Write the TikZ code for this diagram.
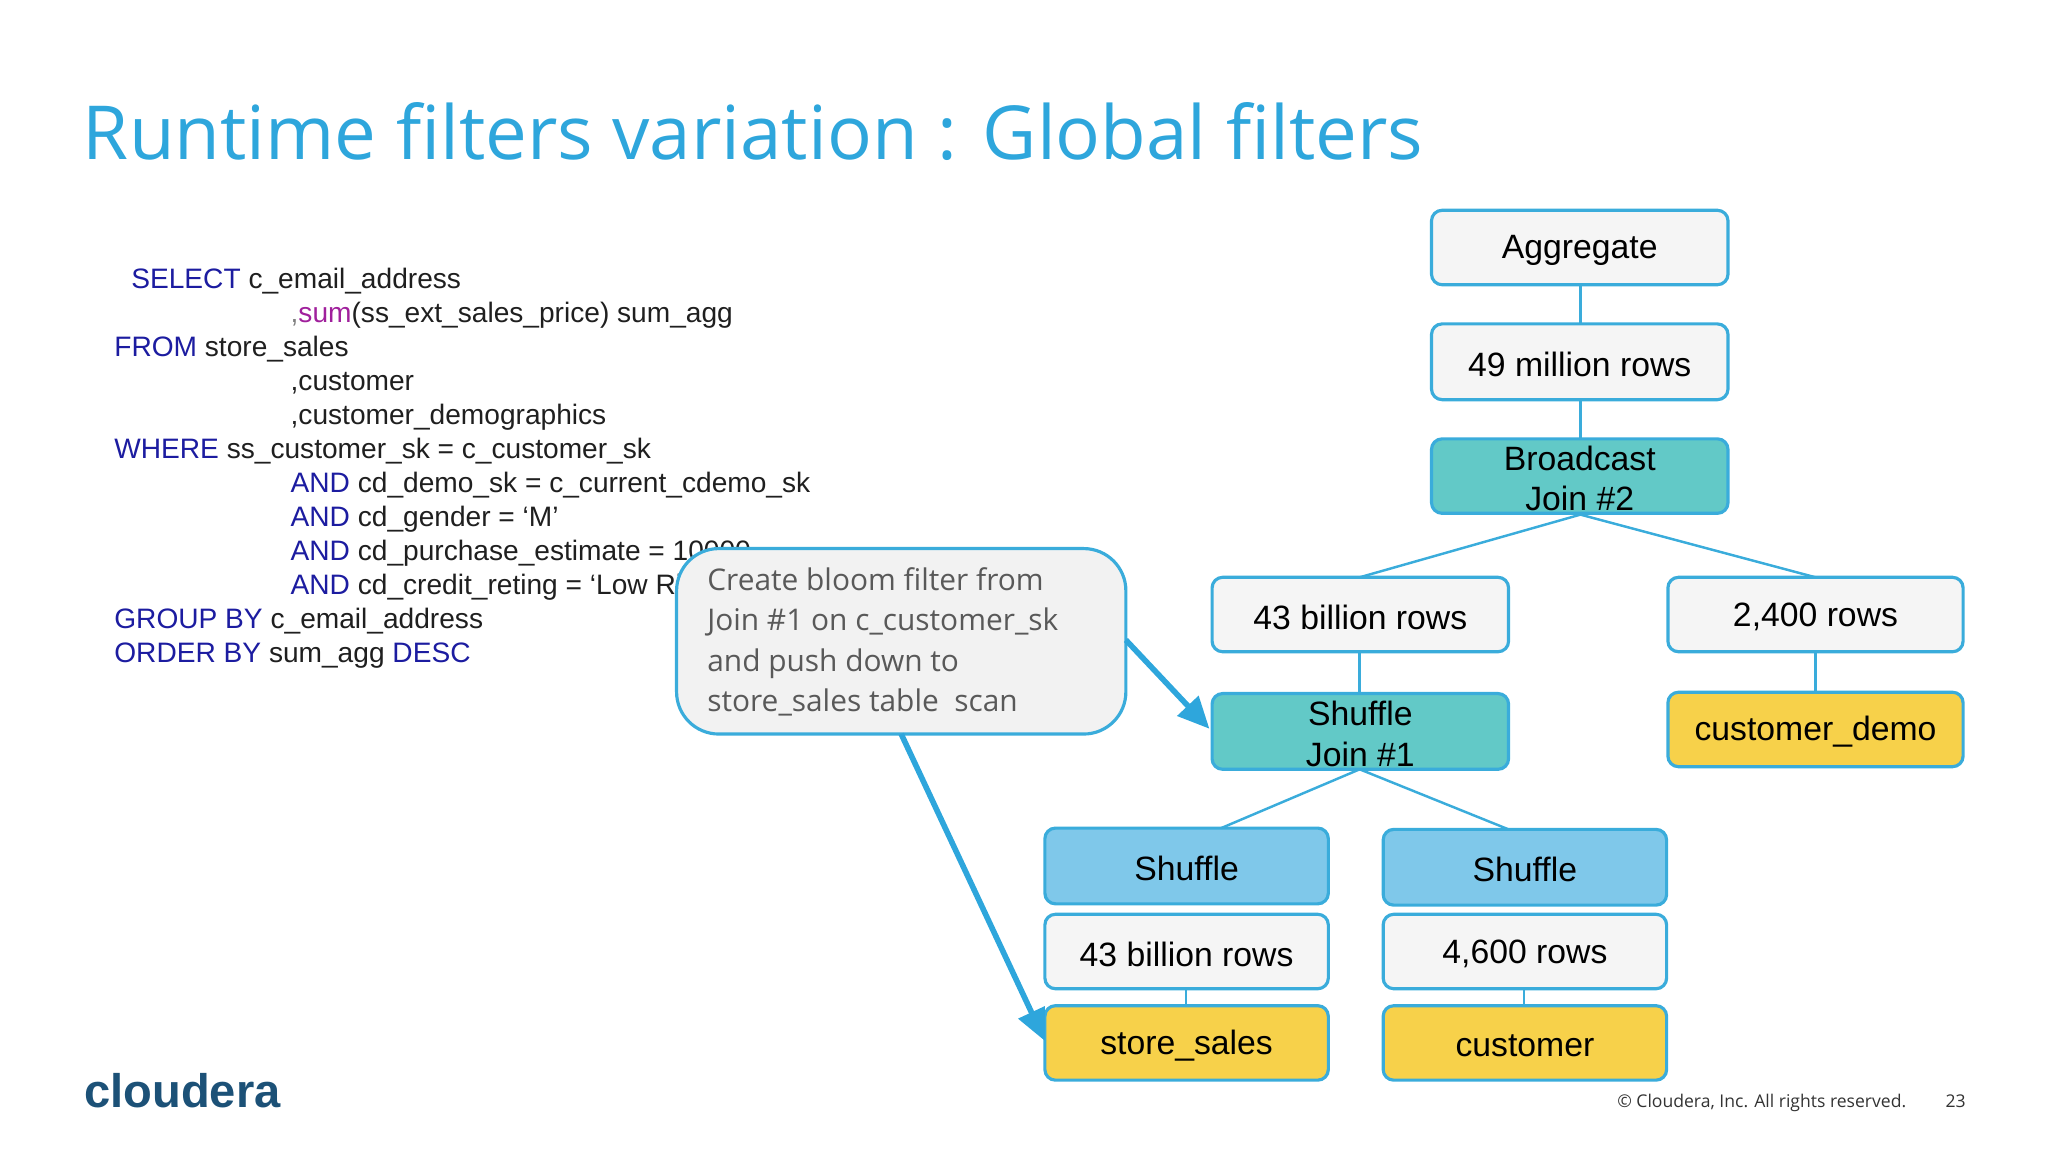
\documentclass[tikz,border=0pt]{standalone}
\usepackage{fontspec}
\setmainfont{Liberation Sans}
\newfontfamily\osans{Open Sans}
\usetikzlibrary{arrows.meta}
\definecolor{tblue}{HTML}{2EA6DC}
\definecolor{bord}{HTML}{3AACDB}
\definecolor{teal}{HTML}{62C9C7}
\definecolor{yel}{HTML}{F7D14A}
\definecolor{lblue}{HTML}{7FC8EA}
\definecolor{kw}{HTML}{1C1CA0}
\definecolor{pur}{HTML}{A0209C}
\definecolor{logo}{HTML}{1C5177}
\begin{document}
\begin{tikzpicture}[x=0.013061cm,y=-0.013061cm,
 sql/.style={anchor=base west,inner sep=0pt,text=black!88,font=\fontsize{8.0}{9}\selectfont},
 ln/.style={draw=bord,line width=0.7pt},
 nb/.style={draw=bord,line width=0.9pt,rounded corners=3pt,fill=#1},
 lb/.style={align=center,inner sep=0pt,font=\fontsize{9.6}{11.5}\selectfont}]
\useasboundingbox (0,0) rectangle (1568,882);
% title
\node[anchor=base west,inner sep=0pt,text=tblue,font=\osans\fontsize{21.2}{26}\selectfont] (title) at (63,122) {Runtime filters variation : Global filters};
% SQL
\node[sql] (s1) at (100,221) {\textcolor{kw}{SELECT} c\_email\_address};
\node[sql] (s2) at (222,247) {\textcolor{gray}{,}\textcolor{pur}{sum}(ss\_ext\_sales\_price) sum\_agg};
\node[sql] (s3) at (87,273) {\textcolor{kw}{FROM} store\_sales};
\node[sql] (s4) at (222,299) {,customer};
\node[sql] (s5) at (222,325) {,customer\_demographics};
\node[sql] (s6) at (87,351) {\textcolor{kw}{WHERE} ss\_customer\_sk = c\_customer\_sk};
\node[sql] (s7) at (222,377) {\textcolor{kw}{AND} cd\_demo\_sk = c\_current\_cdemo\_sk};
\node[sql] (s8) at (222,403) {\textcolor{kw}{AND} cd\_gender = ‘M’};
\node[sql] (s9) at (222,429) {\textcolor{kw}{AND} cd\_purchase\_estimate = 10000};
\node[sql] (s10) at (222,455) {\textcolor{kw}{AND} cd\_credit\_reting = ‘Low Risk’};
\node[sql] (s11) at (87,481) {\textcolor{kw}{GROUP BY} c\_email\_address};
\node[sql] (s12) at (87,507) {\textcolor{kw}{ORDER BY} sum\_agg \textcolor{kw}{DESC}};
% boxes
\newcommand\bxn[6]{\draw[nb=#6] (#2,#3) rectangle (#4,#5); \coordinate (#1) at ({(#2+#4)/2},{(#3+#5)/2+2});}
\newcommand\lab[3]{\node[lb] (#3) at (#1) {#2};}
\bxn{agg}{1096}{161}{1323}{218}{white!96!black}
\bxn{r49}{1096}{248}{1323}{306}{white!96!black}
\bxn{bj}{1096}{336}{1323}{393}{teal}
\bxn{r43a}{928}{442}{1155}{499}{white!96!black}
\bxn{r24}{1277}{442}{1503}{499}{white!96!black}
\bxn{sj}{928}{531}{1155}{589}{teal}
\bxn{cd}{1277}{530}{1503}{587}{yel}
\bxn{shl}{800}{634}{1017}{692}{lblue}
\bxn{r43b}{800}{700}{1017}{757}{white!96!black}
\bxn{ss}{800}{770}{1017}{827}{yel}
\bxn{shr}{1059}{635}{1276}{693}{lblue}
\bxn{r46}{1059}{700}{1276}{757}{white!96!black}
\bxn{cu}{1059}{770}{1276}{827}{yel}
\lab{agg}{Aggregate}{tagg}
\lab{r49}{49 million rows}{tr49}
\lab{bj}{Broadcast\\Join \#2}{tbj}
\lab{r43a}{43 billion rows}{tr43a}
\lab{r24}{2,400 rows}{tr24}
\lab{sj}{Shuffle\\Join \#1}{tsj}
\lab{cd}{customer\_demo}{tcd}
\lab{shl}{Shuffle}{tshl}
\lab{r43b}{43 billion rows}{tr43b}
\lab{ss}{store\_sales}{tss}
\lab{shr}{Shuffle}{tshr}
\lab{r46}{4,600 rows}{tr46}
\lab{cu}{customer}{tcu}
% connectors
\coordinate (aggb) at (1210,218); \coordinate (r49t) at (1210,248);
\coordinate (r49b) at (1210,306); \coordinate (bjt) at (1210,336);
\coordinate (bjb) at (1210,394); \coordinate (r43at) at (1041,442); \coordinate (r24t) at (1390,442);
\coordinate (r43ab) at (1041,499); \coordinate (sjt) at (1041,531);
\coordinate (r24b) at (1390,499); \coordinate (cdt) at (1390,530);
\coordinate (sjb) at (1041,589); \coordinate (shlt) at (935,634); \coordinate (shrt) at (1155,635);
\coordinate (r43bb) at (908,757); \coordinate (sst) at (908,770);
\coordinate (r46b) at (1167,757); \coordinate (cut) at (1167,770);
\draw[ln] (aggb)--(r49t); \draw[ln] (r49b)--(bjt);
\draw[ln] (bjb)--(r43at); \draw[ln] (bjb)--(r24t);
\draw[ln] (r43ab)--(sjt); \draw[ln] (r24b)--(cdt);
\draw[ln] (sjb)--(shlt); \draw[ln] (sjb)--(shrt);
\draw[ln] (r43bb)--(sst); \draw[ln] (r46b)--(cut);
% callout
\draw[draw=bord,line width=0.9pt,fill=white!95!black,rounded corners=12pt] (518,420) rectangle (862,562);
\node[anchor=north west,align=left,inner sep=0pt,text=black!65,font=\osans\fontsize{8.5}{11.5}\selectfont] (co) at (541,434) {Create bloom filter from\\Join \#1 on c\_customer\_sk\\and push down to\\store\_sales table\ \ scan};
\coordinate (c1) at (862,490); \coordinate (c2) at (690,562);
\coordinate (sjl) at (926,558); \coordinate (ssl) at (800,797);
\draw[draw=tblue,line width=1.6pt,-{Triangle[length=9pt,width=8pt]}] (c1)--(sjl);
\draw[draw=tblue,line width=1.6pt,-{Triangle[length=9pt,width=8pt]}] (c2)--(ssl);
% footer
\node[anchor=base west,inner sep=0pt,text=logo,font=\bfseries\fontsize{13.4}{15}\selectfont] (lg) at (64,848) {cloudera};
\node[anchor=base east,inner sep=0pt,text=black!80,font=\osans\fontsize{5.0}{6}\selectfont] (cp) at (1460,848) {© Cloudera, Inc. All rights reserved.};
\node[anchor=base west,inner sep=0pt,text=black!80,font=\osans\fontsize{5.0}{6}\selectfont] (pg) at (1489,848) {23};
\end{tikzpicture}
\end{document}
